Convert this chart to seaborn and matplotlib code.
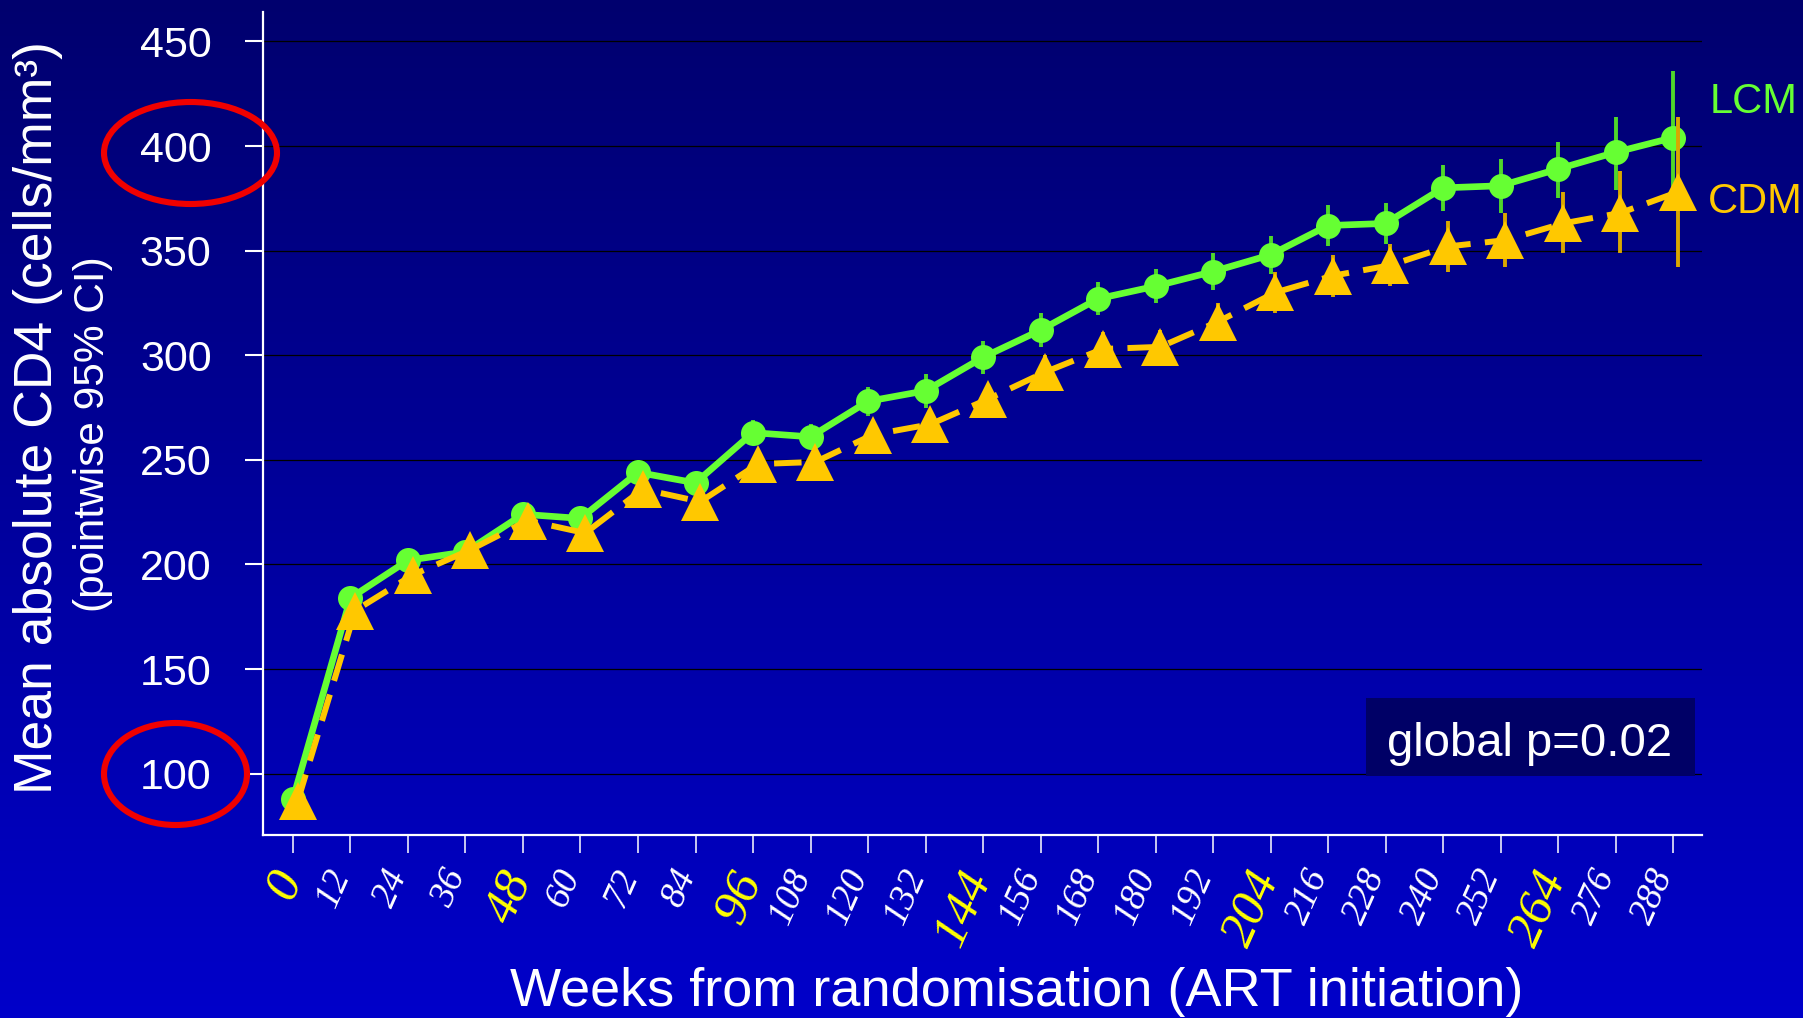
import numpy as np
import pandas as pd
import matplotlib
matplotlib.use("Agg")
import matplotlib.pyplot as plt
import seaborn as sns
from matplotlib.patches import Ellipse, Rectangle
from matplotlib.colors import LinearSegmentedColormap
from matplotlib.transforms import offset_copy

# ---------------- data ----------------
weeks = [0, 12, 24, 36, 48, 60, 72, 84, 96, 108, 120, 132, 144, 156, 168, 180,
         192, 204, 216, 228, 240, 252, 264, 276, 288]
lcm_mean = [88, 184, 202, 206, 224, 222, 244, 239, 263, 261, 278, 283, 299, 312,
            327, 333, 340, 348, 362, 363, 380, 381, 389, 397, 404]
lcm_lower = [85, 180, 198, 202, 219, 217, 239, 234, 257, 255, 271, 275, 291, 304,
             319, 325, 331, 339, 352, 353, 369, 368, 375, 379, 373]
lcm_upper = [91, 188, 206, 210, 229, 227, 249, 244, 269, 267, 285, 291, 307, 320,
             335, 341, 349, 357, 372, 373, 391, 394, 402, 414, 436]
cdm_mean = [87, 178, 195, 207, 221, 215, 236, 230, 248, 249, 262, 267, 279, 292,
            303, 304, 316, 330, 338, 343, 352, 355, 363, 368, 378]
cdm_lower = [84, 174, 190, 202, 216, 209, 230, 224, 242, 242, 255, 260, 272, 284,
             295, 296, 307, 320, 328, 333, 340, 342, 349, 349, 342]
cdm_upper = [90, 182, 200, 212, 226, 221, 242, 236, 254, 256, 269, 274, 286, 300,
             311, 312, 325, 340, 348, 353, 364, 368, 378, 388, 414]
arms = ["LCM", "CDM"]
ytick_values = [100, 150, 200, 250, 300, 350, 400, 450]
highlight_weeks = [0, 48, 96, 144, 204, 264]
circled_ticks = [400, 100]

ylabel_main = "Mean absolute CD4 (cells/mm\u00b3)"
ylabel_sub = "(pointwise 95% CI)"
xlabel = "Weeks from randomisation (ART initiation)"
note = "global p=0.02"

# ---------------- style ----------------
sns.set_theme(style="ticks")
plt.rcParams["font.family"] = ["Liberation Sans", "DejaVu Sans"]
SERIF = ["Liberation Serif", "DejaVu Serif"]

W, H = 1803, 1018
GREEN = "#66FF33"
ORANGE = "#FFC800"
colors = {"LCM": GREEN, "CDM": ORANGE}
bar_colors = {"LCM": "#4FD82A", "CDM": "#D9A800"}
dodge = {"LCM": 0.0, "CDM": 1.0}

n = len(weeks)
df = pd.DataFrame({
    "week": weeks * 2,
    "cd4": lcm_mean + cdm_mean,
    "lower": lcm_lower + cdm_lower,
    "upper": lcm_upper + cdm_upper,
    "arm": ["LCM"] * n + ["CDM"] * n,
})
df["x"] = df["week"] + df["arm"].map(dodge)

fig = plt.figure(figsize=(W / 100, H / 100), dpi=100)

# gradient background
bg = fig.add_axes([0, 0, 1, 1], zorder=-10)
grad = np.linspace(0, 1, 256).reshape(-1, 1)
cmap = LinearSegmentedColormap.from_list("bg", ["#00006E", "#0000CA"])
bg.imshow(grad, aspect="auto", cmap=cmap, extent=[0, 1, 0, 1], origin="upper")
bg.axis("off")

ax = fig.add_axes([263 / W, 183 / H, 1439 / W, 823.3 / H])
ax.patch.set_alpha(0)

# error bars + lines
z = 2
for arm in arms:
    sub = df[df["arm"] == arm]
    ax.vlines(sub["x"], sub["lower"], sub["upper"], colors=bar_colors[arm],
              linewidth=2.8, zorder=z)
    if arm == "LCM":
        sns.lineplot(data=sub, x="x", y="cd4", ax=ax, color=colors[arm],
                     marker="o", markersize=18, markeredgewidth=0,
                     linewidth=4.8, errorbar=None, legend=False, zorder=z + 1)
    else:
        sns.lineplot(data=sub, x="x", y="cd4", ax=ax, color=colors[arm],
                     marker="^", markersize=27, markeredgewidth=0,
                     linewidth=4.3, linestyle=(0, (4.6, 2.4)),
                     errorbar=None, legend=False, zorder=z + 1)
    z += 2

ax.set_xlim(-6.26, 294.05)
ax.set_ylim(70.7, 464.2)
ax.set_xlabel("")
ax.set_ylabel("")

ax.set_yticks(ytick_values)
ax.set_yticklabels([str(v) for v in ytick_values])
ax.set_xticks(weeks)
ax.set_xticklabels([str(w) for w in weeks])

ax.yaxis.grid(True, color="black", linewidth=0.9)
ax.xaxis.grid(False)
ax.set_axisbelow(True)

for s in ["top", "right"]:
    ax.spines[s].set_visible(False)
for s in ["left", "bottom"]:
    ax.spines[s].set_color("white")
    ax.spines[s].set_linewidth(1.6)

ax.tick_params(axis="y", colors="white", length=13, width=1.5, labelsize=31, pad=24)
ax.tick_params(axis="x", colors="white", length=13, width=1.1, pad=8)

for lab, w in zip(ax.get_xticklabels(), weeks):
    lab.set_rotation(66)
    lab.set_style("italic")
    lab.set_family(SERIF)
    lab.set_ha("right")
    if w in highlight_weeks:
        lab.set_color("#FFFF00")
        lab.set_fontsize(37)
        lab.set_transform(offset_copy(lab.get_transform(), fig=fig, x=18, y=0, units="dots"))
    else:
        lab.set_color("white")
        lab.set_fontsize(27)
        lab.set_transform(offset_copy(lab.get_transform(), fig=fig, x=7, y=0, units="dots"))

# axis titles
fig.text(38 / W, 1 - 418 / H, ylabel_main, rotation=90, ha="center", va="center",
         color="white", fontsize=38.5)
fig.text(93.5 / W, 1 - 434 / H, ylabel_sub, rotation=90, ha="center", va="center",
         color="white", fontsize=30.5)
fig.text(1017 / W, 1 - 992 / H, xlabel, ha="center", va="center",
         color="white", fontsize=39)

# series labels
fig.text(1710 / W, 1 - 102 / H, "LCM", ha="left", va="center", color=GREEN, fontsize=30)
fig.text(1708 / W, 1 - 202 / H, "CDM", ha="left", va="center", color=ORANGE, fontsize=30)

# p-value box
fig.add_artist(Rectangle((1366 / W, 1 - 776 / H), 329 / W, 78 / H,
                         transform=fig.transFigure, facecolor="#000066",
                         edgecolor="none", zorder=5))
fig.text(1530 / W, 1 - 756 / H, note, ha="center", va="baseline",
         color="white", fontsize=34, zorder=6)

# red ellipses around tick labels
ell_specs = {400: (190.5, 153, 173, 102), 100: (175.5, 774, 143, 102)}
for v in circled_ticks:
    cx, cy, ew, eh = ell_specs[v]
    fig.add_artist(Ellipse((cx / W, 1 - cy / H), ew / W, eh / H,
                           transform=fig.transFigure, fill=False,
                           edgecolor="#F00000", linewidth=4.4, zorder=7))

fig.savefig("out.png", dpi=100)
